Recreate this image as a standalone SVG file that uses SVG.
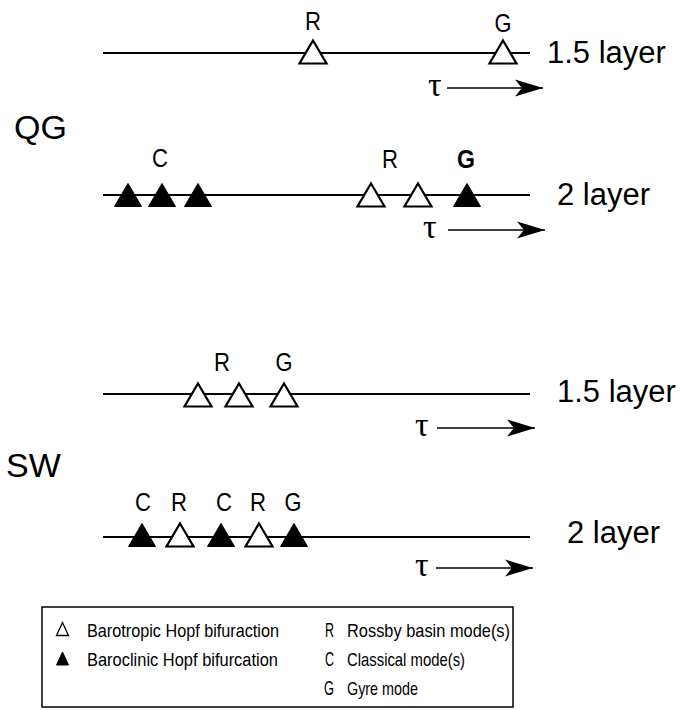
<svg xmlns="http://www.w3.org/2000/svg" width="682" height="710" viewBox="0 0 682 710">
  <style>
    .axis { stroke: #000; stroke-width: 2; fill: none; }
    .tau-line { stroke: #000; stroke-width: 1.6; fill: none; }
    .open { fill: #fff; stroke: #000; stroke-width: 2.2; stroke-linejoin: miter; }
    .filled { fill: #000; stroke: #000; stroke-width: 1; }
    .mode { font-family: "Liberation Sans", Arial, sans-serif; font-size: 26px; fill: #000; text-anchor: middle; }
    .layer { font-family: "Liberation Sans", Arial, sans-serif; font-size: 31px; fill: #000; }
    .model { font-family: "Liberation Sans", Arial, sans-serif; font-size: 34px; fill: #000; }
    .tau { font-family: "Liberation Serif", "Times New Roman", serif; font-size: 34px; fill: #000; }
    .legend-text { font-family: "Liberation Sans", Arial, sans-serif; font-size: 19px; fill: #000; }
    .legend-key { font-family: "Liberation Sans", Arial, sans-serif; font-size: 20px; fill: #000; }
    .box { fill: none; stroke: #000; stroke-width: 1.5; }
  </style>
  <defs>
    <path id="tri" d="M0,-11.5 L13.5,11.5 L-13.5,11.5 Z"/>
    <path id="tri-small" d="M0,-6.5 L6,6.5 L-6,6.5 Z"/>
    <marker id="arrowhead" markerUnits="userSpaceOnUse" markerWidth="30" markerHeight="20" refX="28" refY="10" orient="auto">
      <path d="M0,1.5 L28,10 L0,18.5 L7,10 Z" fill="#000"/>
    </marker>
  </defs>

  <rect width="682" height="710" fill="#fff"/>

  <!-- model labels -->
  <g id="label-qg"><text class="model" x="14" y="139">QG</text></g>
  <g id="label-sw"><text class="model" x="6" y="477">SW</text></g>

  <!-- connectors: parameter axes and tau arrows -->
  <g id="connectors">
    <line class="axis" x1="103" y1="53" x2="530" y2="53"/>
    <line class="axis" x1="103" y1="195" x2="530" y2="195"/>
    <line class="axis" x1="103" y1="394" x2="530" y2="394"/>
    <line class="axis" x1="103" y1="537" x2="530" y2="537"/>
    <line class="tau-line" x1="447" y1="88" x2="543" y2="88" marker-end="url(#arrowhead)"/>
    <line class="tau-line" x1="448" y1="230" x2="545" y2="230" marker-end="url(#arrowhead)"/>
    <line class="tau-line" x1="437" y1="428" x2="535" y2="428" marker-end="url(#arrowhead)"/>
    <line class="tau-line" x1="436" y1="568" x2="533" y2="568" marker-end="url(#arrowhead)"/>
  </g>

  <!-- QG 1.5 layer -->
  <g id="qg-15">
    <use href="#tri" class="open" x="313" y="52"/>
    <use href="#tri" class="open" x="503" y="52"/>
    <text class="mode" x="313" y="30" textLength="16" lengthAdjust="spacingAndGlyphs">R</text>
    <text class="mode" x="503" y="32" textLength="17" lengthAdjust="spacingAndGlyphs">G</text>
    <text class="layer" x="547" y="63">1.5 layer</text>
    <text class="tau" x="428" y="96">τ</text>
  </g>

  <!-- QG 2 layer -->
  <g id="qg-2">
    <use href="#tri" class="filled" x="128" y="195"/>
    <use href="#tri" class="filled" x="162" y="195"/>
    <use href="#tri" class="filled" x="198" y="195"/>
    <use href="#tri" class="open" x="371" y="195"/>
    <use href="#tri" class="open" x="418" y="195"/>
    <use href="#tri" class="filled" x="467" y="195"/>
    <text class="mode" x="160" y="167" textLength="16" lengthAdjust="spacingAndGlyphs">C</text>
    <text class="mode" x="390" y="168" textLength="16" lengthAdjust="spacingAndGlyphs">R</text>
    <text class="mode" x="466" y="168" font-weight="bold" textLength="18" lengthAdjust="spacingAndGlyphs">G</text>
    <text class="layer" x="557" y="205">2 layer</text>
    <text class="tau" x="423" y="238">τ</text>
  </g>

  <!-- SW 1.5 layer -->
  <g id="sw-15">
    <use href="#tri" class="open" x="198" y="395"/>
    <use href="#tri" class="open" x="239" y="395"/>
    <use href="#tri" class="open" x="284" y="395"/>
    <text class="mode" x="222" y="371" textLength="16" lengthAdjust="spacingAndGlyphs">R</text>
    <text class="mode" x="284" y="371" textLength="17" lengthAdjust="spacingAndGlyphs">G</text>
    <text class="layer" x="557" y="402">1.5 layer</text>
    <text class="tau" x="415" y="436">τ</text>
  </g>

  <!-- SW 2 layer -->
  <g id="sw-2">
    <use href="#tri" class="filled" x="142" y="535"/>
    <use href="#tri" class="open" x="180" y="535"/>
    <use href="#tri" class="filled" x="221" y="535"/>
    <use href="#tri" class="open" x="259" y="535"/>
    <use href="#tri" class="filled" x="294" y="535"/>
    <text class="mode" x="143" y="511" textLength="16" lengthAdjust="spacingAndGlyphs">C</text>
    <text class="mode" x="179" y="511" textLength="16" lengthAdjust="spacingAndGlyphs">R</text>
    <text class="mode" x="224" y="511" textLength="16" lengthAdjust="spacingAndGlyphs">C</text>
    <text class="mode" x="258" y="511" textLength="16" lengthAdjust="spacingAndGlyphs">R</text>
    <text class="mode" x="293" y="511" textLength="17" lengthAdjust="spacingAndGlyphs">G</text>
    <text class="layer" x="567" y="543">2 layer</text>
    <text class="tau" x="415" y="576">τ</text>
  </g>

  <!-- legend -->
  <g id="legend">
    <rect class="box" x="42" y="607" width="471" height="100"/>
    <use href="#tri-small" fill="#fff" stroke="#000" stroke-width="1.3" x="62.5" y="629"/>
    <use href="#tri-small" fill="#000" stroke="#000" stroke-width="1" x="62.5" y="658.5"/>
    <text class="legend-text" x="87" y="637" textLength="192" lengthAdjust="spacingAndGlyphs">Barotropic Hopf bifuraction</text>
    <text class="legend-text" x="87" y="666" textLength="191" lengthAdjust="spacingAndGlyphs">Baroclinic Hopf bifurcation</text>
    <text class="legend-key" x="325" y="637" textLength="9" lengthAdjust="spacingAndGlyphs">R</text>
    <text class="legend-key" x="325" y="666" textLength="9" lengthAdjust="spacingAndGlyphs">C</text>
    <text class="legend-key" x="324" y="695" textLength="10" lengthAdjust="spacingAndGlyphs">G</text>
    <text class="legend-text" x="347" y="637" textLength="163" lengthAdjust="spacingAndGlyphs">Rossby basin mode(s)</text>
    <text class="legend-text" x="347" y="666" textLength="118" lengthAdjust="spacingAndGlyphs">Classical mode(s)</text>
    <text class="legend-text" x="347" y="695" textLength="71" lengthAdjust="spacingAndGlyphs">Gyre mode</text>
  </g>
</svg>
